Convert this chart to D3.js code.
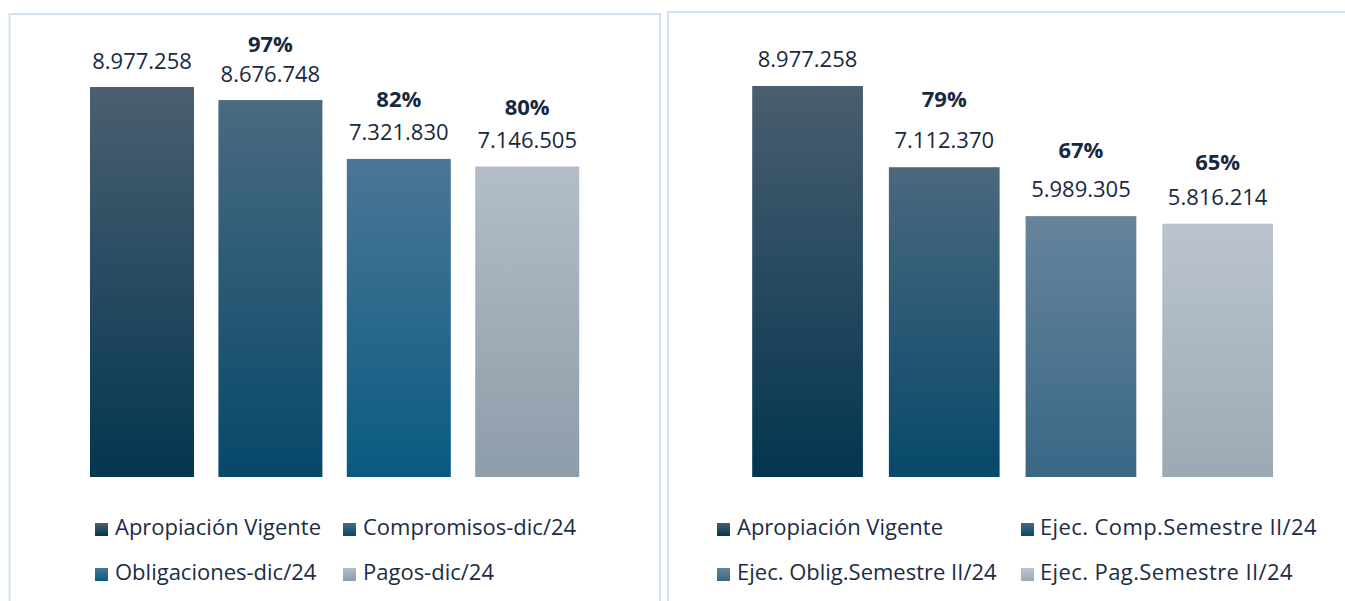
<!DOCTYPE html>
<html>
<head>
<meta charset="utf-8">
<script src="https://cdn.jsdelivr.net/npm/d3@7"></script>
<style>
  html, body { margin: 0; padding: 0; background: #ffffff; }
  svg { display: block; }
  .val { font-family: "Open Sans", sans-serif; font-size: 22px; fill: #18293f; }
  .pct { font-family: "Open Sans", sans-serif; font-size: 22px; font-weight: 700; fill: #18293f; }
  .leg { font-family: "Open Sans", sans-serif; font-size: 22px; fill: #1c2c45; }
</style>
</head>
<body>
<svg id="chart" width="1345" height="601"></svg>
<script>
// ---------- DATA ----------
const leftCategories = ["Apropiación Vigente", "Compromisos-dic/24", "Obligaciones-dic/24", "Pagos-dic/24"];
const leftValues = [8977258, 8676748, 7321830, 7146505];
const leftPercents = ["", "97%", "82%", "80%"];

const rightCategories = ["Apropiación Vigente", "Ejec. Comp.Semestre II/24", "Ejec. Oblig.Semestre II/24", "Ejec. Pag.Semestre II/24"];
const rightValues = [8977258, 7112370, 5989305, 5816214];
const rightPercents = ["", "79%", "67%", "65%"];

// ---------- STYLE / LAYOUT ----------
const leftGradients = [["#4b5f71", "#03364f"], ["#4a6a80", "#06486a"], ["#4b7696", "#095b81"], ["#b2bdc7", "#8e9daa"]];
const rightGradients = [["#4a5e70", "#03354f"], ["#4b687e", "#06496b"], ["#66849c", "#396786"], ["#bbc4cd", "#9ca9b4"]];

const panels = [
  {
    id: "L", categories: leftCategories, values: leftValues, percents: leftPercents, grads: leftGradients,
    xRange: [77.8, 591.4], yTop: 87, pctGap: [0, 30, 33, 33], valGap: 18.5,
    frame: { x: 9.5, y: 14, right: 660 },
    legendCols: [95, 343], legendText: [115, 363], legendSpacing: [0, 0]
  },
  {
    id: "R", categories: rightCategories, values: rightValues, percents: rightPercents, grads: rightGradients,
    xRange: [739.2, 1286], yTop: 86, pctGap: [0, 41, 39, 35], valGap: 19,
    frame: { x: 668, y: 12, right: null },
    legendCols: [717, 1021], legendText: [737, 1040], legendSpacing: [0, 0.4]
  }
];

const baseY = 477;
const legendRows = [535, 580];
const markerSize = 13;

const fmtLocale = d3.formatLocale({ decimal: ",", thousands: ".", grouping: [3], currency: ["", ""] });
const fmt = fmtLocale.format(",d");

const svg = d3.select("#chart");
const defs = svg.append("defs");

panels.forEach(p => {
  // gradients
  p.grads.forEach((g, i) => {
    const lg = defs.append("linearGradient")
      .attr("id", `g${p.id}${i}`)
      .attr("x1", 0).attr("y1", 0).attr("x2", 0).attr("y2", 1);
    lg.append("stop").attr("offset", "0%").attr("stop-color", g[0]);
    lg.append("stop").attr("offset", "100%").attr("stop-color", g[1]);
  });

  // frame
  const f = p.frame;
  const framePath = f.right !== null
    ? `M${f.x},605 L${f.x},${f.y} L${f.right},${f.y} L${f.right},605`
    : `M${f.x},605 L${f.x},${f.y} L1350,${f.y}`;
  svg.append("path").attr("d", framePath)
    .attr("fill", "none").attr("stroke", "#d0e1f4").attr("stroke-width", 2);

  const x = d3.scaleBand().domain(p.categories).range(p.xRange).paddingInner(0.19).paddingOuter(0.095);
  const y = d3.scaleLinear().domain([0, d3.max(p.values)]).range([baseY, p.yTop]);

  const g = svg.append("g");
  const rows = p.categories.map((c, i) => ({ c, v: p.values[i], pct: p.percents[i], i }));

  g.selectAll("rect.bar").data(rows).join("rect")
    .attr("class", "bar")
    .attr("x", d => x(d.c))
    .attr("y", d => y(d.v))
    .attr("width", x.bandwidth())
    .attr("height", d => y(0) - y(d.v))
    .attr("fill", d => `url(#g${p.id}${d.i})`);

  g.selectAll("text.val").data(rows).join("text")
    .attr("class", "val")
    .attr("text-anchor", "middle")
    .attr("x", d => x(d.c) + x.bandwidth() / 2)
    .attr("y", d => y(d.v) - p.valGap)
    .text(d => fmt(d.v));

  g.selectAll("text.pct").data(rows.filter(d => d.pct)).join("text")
    .attr("class", "pct")
    .attr("text-anchor", "middle")
    .attr("x", d => x(d.c) + x.bandwidth() / 2)
    .attr("y", d => y(d.v) - p.valGap - p.pctGap[d.i])
    .text(d => d.pct);

  // legend
  const leg = svg.append("g");
  rows.forEach(d => {
    const col = d.i % 2, row = Math.floor(d.i / 2);
    leg.append("rect")
      .attr("x", p.legendCols[col])
      .attr("y", legendRows[row] - 12)
      .attr("width", markerSize).attr("height", markerSize)
      .attr("fill", `url(#g${p.id}${d.i})`);
    leg.append("text").attr("class", "leg")
      .attr("x", p.legendText[col])
      .attr("y", legendRows[row])
      .attr("letter-spacing", p.legendSpacing[col])
      .text(d.c);
  });
});
</script>
</body>
</html>
